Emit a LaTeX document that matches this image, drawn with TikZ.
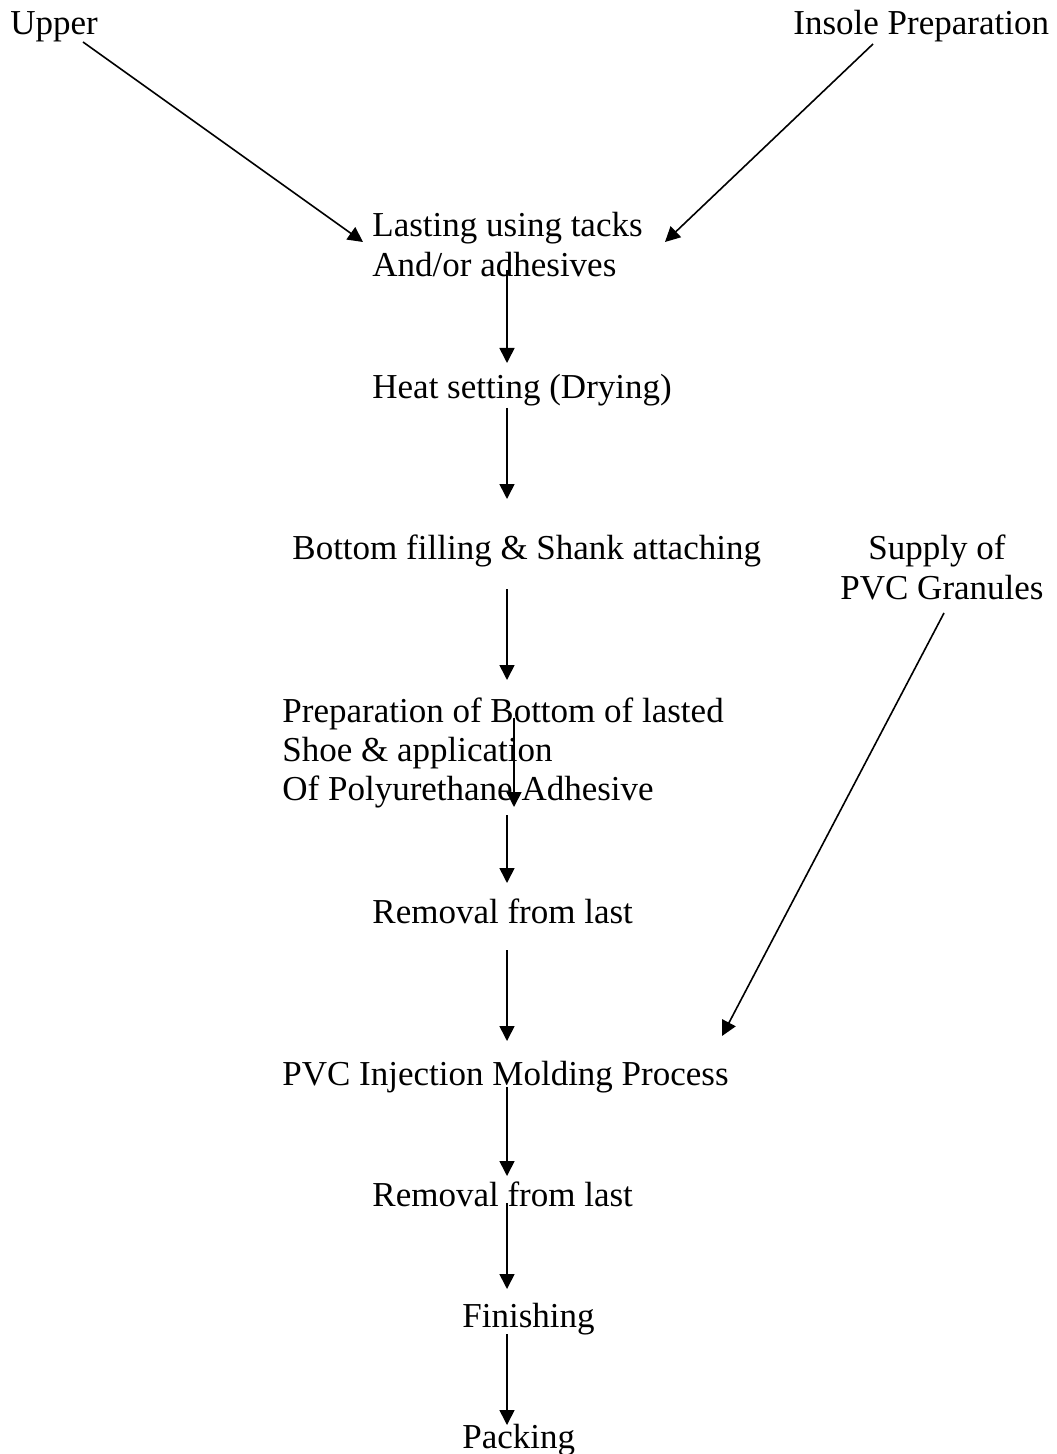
\documentclass[tikz,border=0pt]{standalone}
\usepackage{fontspec}
\setmainfont{Liberation Serif}
\usetikzlibrary{arrows.meta}
\begin{document}
\begin{tikzpicture}[x=0.5pt,y=-0.5pt,
  lbl/.style={anchor=base west,inner sep=0pt,font=\fontsize{17.5}{20}\selectfont},
  flow/.style={line width=0.8pt,-{Triangle[length=7.5pt,width=7.5pt]}}]
\useasboundingbox (0,0) rectangle (1056,1454);

% process labels, one node per printed line
\node[lbl] (upper)  at (10,35)  {Upper};
\node[lbl] (insole) at (793,35) {Insole Preparation};
\node[lbl] (last1)  at (372,237) {Lasting using tacks};
\node[lbl] (last2)  at (372,277) {And/or adhesives};
\node[lbl] (heat)   at (372,399) {Heat setting (Drying)};
\node[lbl] (bottom) at (292,559) {Bottom filling \& Shank attaching};
\node[lbl] (supp1)  at (868,559) {Supply of};
\node[lbl] (supp2)  at (840,599) {PVC Granules};
\node[lbl] (prep1)  at (282,722) {Preparation of Bottom of lasted};
\node[lbl] (prep2)  at (282,761) {Shoe \& application};
\node[lbl] (prep3)  at (282,800) {Of Polyurethane Adhesive};
\node[lbl] (rem1)   at (372,923) {Removal from last};
\node[lbl] (pvc)    at (282,1085) {PVC Injection Molding Process};
\node[lbl] (rem2)   at (372,1206) {Removal from last};
\node[lbl] (finish) at (462,1327) {Finishing};
\node[lbl] (pack)   at (462,1448) {Packing};

% connector end points
\coordinate (upA)  at (83,42);   \coordinate (upB)  at (363,242);
\coordinate (inA)  at (873,44);  \coordinate (inB)  at (665,242);
\coordinate (a1)   at (507,270);  \coordinate (b1) at (507,363);
\coordinate (a2)   at (507,408);  \coordinate (b2) at (507,499);
\coordinate (a3)   at (507,589);  \coordinate (b3) at (507,680);
\coordinate (a4)   at (514,718);  \coordinate (b4) at (514,807);
\coordinate (a5)   at (507,815);  \coordinate (b5) at (507,883);
\coordinate (a6)   at (507,950);  \coordinate (b6) at (507,1041);
\coordinate (a7)   at (507,1087); \coordinate (b7) at (507,1176);
\coordinate (a8)   at (507,1203); \coordinate (b8) at (507,1289);
\coordinate (a9)   at (507,1334); \coordinate (b9) at (507,1425);
\coordinate (spA)  at (944,613);  \coordinate (spB) at (722,1036);

\draw[flow] (upA) -- (upB);
\draw[flow] (inA) -- (inB);
\draw[flow] (a1) -- (b1);
\draw[flow] (a2) -- (b2);
\draw[flow] (a3) -- (b3);
\draw[flow] (a4) -- (b4);
\draw[flow] (a5) -- (b5);
\draw[flow] (a6) -- (b6);
\draw[flow] (a7) -- (b7);
\draw[flow] (a8) -- (b8);
\draw[flow] (a9) -- (b9);
\draw[flow] (spA) -- (spB);
\end{tikzpicture}
\end{document}
